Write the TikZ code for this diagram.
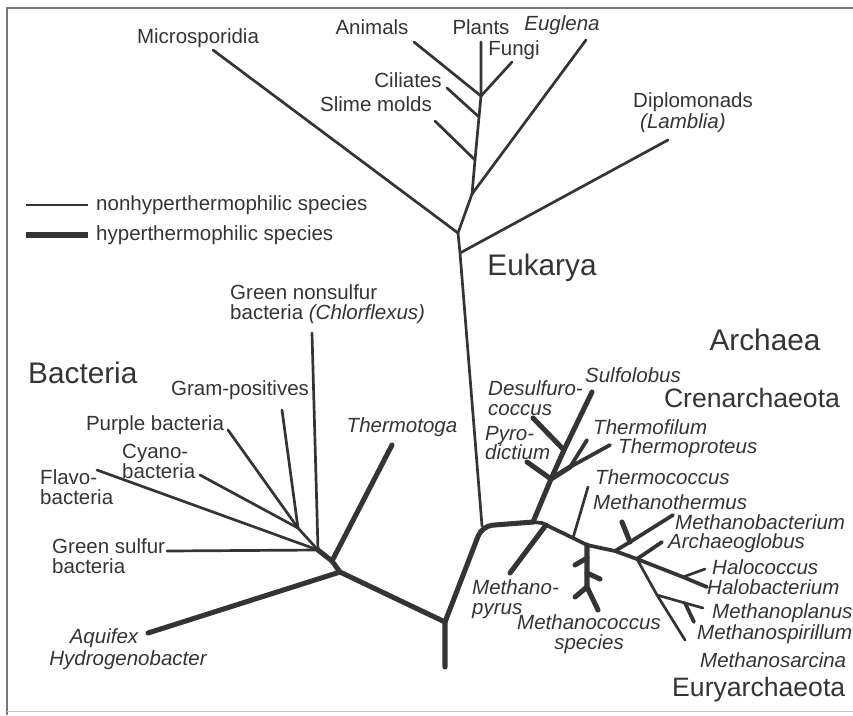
\documentclass[tikz,border=0pt]{standalone}
\usepackage{fontspec}
\setmainfont{Liberation Sans}
\usetikzlibrary{positioning}
\definecolor{inkgray}{RGB}{52,52,52}
\definecolor{framegray}{RGB}{120,120,120}

\begin{document}
\begin{tikzpicture}[x=0.03cm,y=-0.03cm,
    nonhyper/.style={draw=inkgray,line width=2.3pt,line cap=round},
    midline/.style={draw=inkgray,line width=3.2pt,line cap=round},
    hyper/.style={draw=inkgray,line width=4.3pt,line cap=round},
    lbl/.style={inner sep=0pt,text=inkgray,align=left,font=\fontsize{17.5}{17}\selectfont},
    ital/.style={lbl,font=\fontsize{17.5}{17}\selectfont\itshape},
    domainlbl/.style={inner sep=0pt,text=inkgray,font=\fontsize{25.4}{27}\selectfont},
    kingdomlbl/.style={inner sep=0pt,text=inkgray,font=\fontsize{22.7}{24}\selectfont}]
  \useasboundingbox (0,0) rectangle (853,715);
  % frame of the scan
  \draw[framegray,line width=1.1pt] (853,8) -- (7,8) -- (7,715);
  \draw[framegray!45,line width=0.8pt] (7,711) -- (853,711);

  % ---- Eukarya ----
  \coordinate (ua) at (482,526);
  \coordinate (eDip) at (460,253);
  \coordinate (eMic) at (458,233);
  \coordinate (eEug) at (472,194);
  \coordinate (eSli) at (475,160);
  \coordinate (eCil) at (479,117);
  \coordinate (eAni) at (481,96);
  \coordinate (tPla) at (481,42);
  \coordinate (tFun) at (512,62);
  \coordinate (tAni) at (414,42);
  \coordinate (tCil) at (447,88);
  \coordinate (tSli) at (435,121);
  \coordinate (tEug) at (586,40);
  \coordinate (tMic) at (213,50);
  \coordinate (tDip) at (668,140);
  \draw[nonhyper] (ua) -- (eDip) -- (eMic) -- (eEug) -- (eSli) -- (eCil) -- (eAni) -- (tPla);
  \draw[nonhyper] (eAni) -- (tFun);
  \draw[nonhyper] (eAni) -- (tAni);
  \draw[nonhyper] (eCil) -- (tCil);
  \draw[nonhyper] (eSli) -- (tSli);
  \draw[nonhyper] (eEug) -- (tEug);
  \draw[nonhyper] (eMic) -- (tMic);
  \draw[nonhyper] (eDip) -- (tDip);

  \node[lbl] (lMic) at (198,38) {Microsporidia};
  \node[lbl] (lAni) at (372,27) {Animals};
  \node[lbl] (lPla) at (481,27) {Plants};
  \node[lbl] (lFun) at (514,50) {Fungi};
  \node[ital] (lEug) at (562,25) {Euglena};
  \node[lbl] (lCil) at (408,80) {Ciliates};
  \node[lbl] (lSli) at (376,104) {Slime molds};
  \node[lbl,anchor=west] (lDip) at (633,102) {Diplomonads};
  \node[ital,anchor=west] (lLam) at (640,123) {(Lamblia)};
  \node[domainlbl] (lEuk) at (542,268) {Eukarya};

  % ---- legend ----
  \coordinate (lgNonA) at (26,205);
  \coordinate (lgNonB) at (88,205);
  \coordinate (lgHypA) at (26,235);
  \coordinate (lgHypB) at (88,235);
  \draw[nonhyper,line cap=butt] (lgNonA) -- (lgNonB);
  \draw[hyper,line cap=butt] (lgHypA) -- (lgHypB);
  \node[lbl,anchor=west] (lgNon) at (96,205) {nonhyperthermophilic species};
  \node[lbl,anchor=west] (lgHyp) at (96,235) {hyperthermophilic species};

  % ---- Bacteria ----
  \coordinate (bRoot) at (445,622);
  \coordinate (bBot) at (445,667);
  \coordinate (bAqu) at (340,572);
  \coordinate (bThe) at (332,561);
  \coordinate (bFan) at (318,550);
  \coordinate (bGram) at (298,528);
  \coordinate (tGns) at (312,333);
  \coordinate (tFla) at (97,470);
  \coordinate (tGsu) at (167,551);
  \coordinate (tGram) at (282,410);
  \coordinate (tPur) at (228,430);
  \coordinate (tCya) at (200,475);
  \coordinate (tThe) at (392,445);
  \coordinate (tAqu) at (148,633);
  \draw[nonhyper] (bFan) -- (tGns);
  \draw[nonhyper] (bFan) -- (tFla);
  \draw[nonhyper] (bFan) -- (tGsu);
  \draw[nonhyper] (bFan) -- (bGram);
  \draw[nonhyper] (bGram) -- (tGram);
  \draw[nonhyper] (bGram) -- (tPur);
  \draw[nonhyper] (bGram) -- (tCya);
  \draw[hyper] (bFan) -- (bThe) -- (bAqu) -- (bRoot) -- (bBot);
  \draw[hyper] (bThe) -- (tThe);
  \draw[hyper] (bAqu) -- (tAqu);

  \node[domainlbl,anchor=west] (lBac) at (28,373) {Bacteria};
  \node[lbl,anchor=west] (lGns) at (230,304) {Green nonsulfur\\bacteria \textit{(Chlorflexus)}};
  \node[lbl] (lGram) at (240,390) {Gram-positives};
  \node[lbl] (lPur) at (155,425) {Purple bacteria};
  \node[lbl,anchor=west] (lCya) at (122,461) {Cyano-\\bacteria};
  \node[lbl,anchor=west] (lFla) at (40,487) {Flavo-\\bacteria};
  \node[lbl,anchor=west] (lGsu) at (52,556) {Green sulfur\\bacteria};
  \node[ital] (lThe) at (402,427) {Thermotoga};
  \node[ital] (lAqu) at (104,638) {Aquifex};
  \node[ital] (lHyd) at (128,660) {Hydrogenobacter};

  % ---- Archaea ----
  \coordinate (aCren) at (533,522);
  \coordinate (aBend) at (542,523);
  \coordinate (aPyr) at (546,525);
  \coordinate (aTcc) at (573,538);
  \coordinate (aMcc) at (587,545);
  \coordinate (aMba) at (615,551);
  \coordinate (aArc) at (637,559);
  \coordinate (aHalo) at (683,577);
  \coordinate (tHbc) at (707,587);
  \draw[hyper,rounded corners=9pt] (bRoot) -- (ua) -- (aCren);
  \draw[midline] (aCren) -- (aBend) -- (aTcc) -- (aMcc) -- (aMba) -- (aArc) -- (aHalo) -- (tHbc);

  % Crenarchaeota
  \coordinate (cPyr) at (551,479);
  \coordinate (cDes) at (564,450);
  \coordinate (cThm) at (570,467);
  \coordinate (tSul) at (592,392);
  \coordinate (tPyd) at (527,462);
  \coordinate (tDes) at (533,418);
  \coordinate (tTfi) at (587,440);
  \coordinate (tTpr) at (610,445);
  \draw[hyper] (aCren) -- (cPyr) -- (cDes) -- (tSul);
  \draw[hyper] (cPyr) -- (tPyd);
  \draw[hyper] (cDes) -- (tDes);
  \draw[hyper] (cPyr) -- (cThm);
  \draw[midline] (cThm) -- (tTfi);
  \draw[midline] (cThm) -- (tTpr);

  % Euryarchaeota
  \coordinate (tPyr) at (510,573);
  \coordinate (tTcc) at (588,487);
  \coordinate (mc1) at (587,558);
  \coordinate (mc2) at (587,573);
  \coordinate (mc3) at (587,587);
  \coordinate (tMc1) at (575,565);
  \coordinate (tMc2) at (600,579);
  \coordinate (tMc3) at (575,597);
  \coordinate (tMc4) at (598,610);
  \coordinate (mb1) at (630,542);
  \coordinate (tMba) at (673,515);
  \coordinate (tMb2) at (622,522);
  \coordinate (tArc) at (662,542);
  \coordinate (tHco) at (705,569);
  \coordinate (mp0) at (657,595);
  \coordinate (mp1) at (685,603);
  \coordinate (tMpl) at (703,608);
  \coordinate (tMsp) at (685,640);
  \coordinate (tMs2) at (694,622);
  \draw[hyper] (aPyr) -- (tPyr);
  \draw[nonhyper] (aTcc) -- (tTcc);
  \draw[hyper] (aMcc) -- (mc1) -- (mc2) -- (mc3) -- (tMc4);
  \draw[hyper] (mc1) -- (tMc1);
  \draw[hyper] (mc2) -- (tMc2);
  \draw[hyper] (mc3) -- (tMc3);
  \draw[midline] (aMba) -- (mb1) -- (tMba);
  \draw[hyper] (mb1) -- (tMb2);
  \draw[midline] (aArc) -- (tArc);
  \draw[nonhyper] (aHalo) -- (tHco);
  \draw[nonhyper] (aArc) -- (mp0) -- (tMsp);
  \draw[nonhyper] (mp0) -- (mp1) -- (tMpl);
  \draw[midline] (mp1) -- (tMs2);

  \node[domainlbl] (lArch) at (765,340) {Archaea};
  \node[kingdomlbl] (lCren) at (752,398) {Crenarchaeota};
  \node[ital] (lSul) at (633,375) {Sulfolobus};
  \node[ital,anchor=west] (lDes) at (488,398) {Desulfuro-\\coccus};
  \node[ital,anchor=west] (lPyd) at (485,443) {Pyro-\\dictium};
  \node[ital,anchor=west] (lTfi) at (593,427) {Thermofilum};
  \node[ital,anchor=west] (lTpr) at (618,448) {Thermoproteus};
  \node[ital,anchor=west] (lTcc) at (595,477) {Thermococcus};
  \node[ital,anchor=west] (lMth) at (593,502) {Methanothermus};
  \node[ital,anchor=west] (lMba) at (675,522) {Methanobacterium};
  \node[ital,anchor=west] (lArc) at (668,543) {Archaeoglobus};
  \node[ital,anchor=west] (lHco) at (712,567) {Halococcus};
  \node[ital,anchor=west] (lHbc) at (707,587) {Halobacterium};
  \node[ital,anchor=west] (lMpl) at (712,613) {Methanoplanus};
  \node[ital,anchor=west] (lMsp) at (697,634) {Methanospirillum};
  \node[ital,anchor=west] (lMsa) at (700,660) {Methanosarcina};
  \node[ital,anchor=west] (lPyr) at (472,599) {Methano-\\pyrus};
  \node[ital,align=center] (lMcc) at (589,634) {Methanococcus\\species};
  \node[kingdomlbl,anchor=west] (lEury) at (672,690) {Euryarchaeota};
\end{tikzpicture}
\end{document}
